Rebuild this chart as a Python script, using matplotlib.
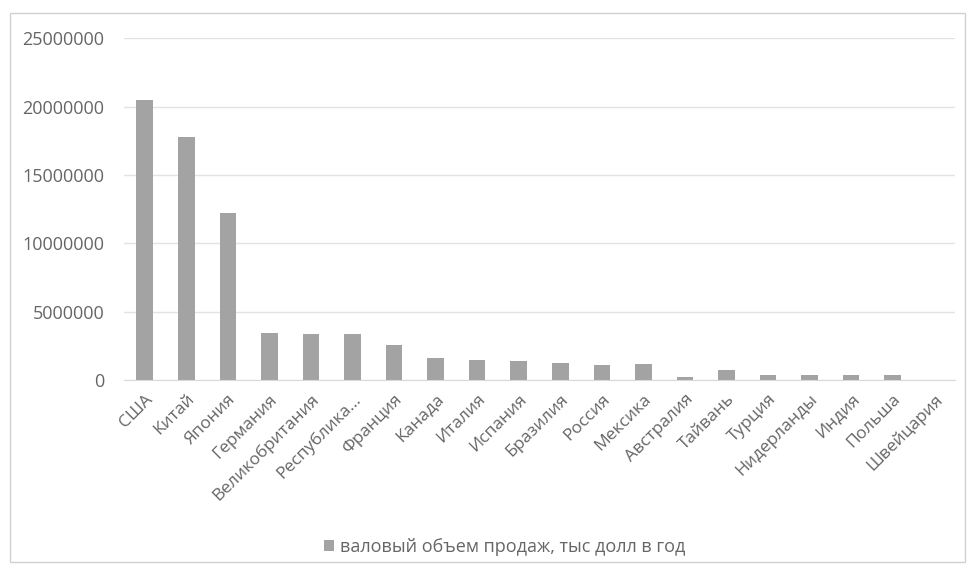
import matplotlib
matplotlib.use("Agg")
import matplotlib.pyplot as plt
from matplotlib.patches import Rectangle

# ==========================================================
# ДАННЫЕ
# ==========================================================

strany = [
    "США", "Китай", "Япония", "Германия", "Великобритания",
    "Республика...", "Франция", "Канада", "Италия", "Испания",
    "Бразилия", "Россия", "Мексика", "Австралия", "Тайвань",
    "Турция", "Нидерланды", "Индия", "Польша", "Швейцария",
]

prodazhi = [
    20500000, 17800000, 12200000, 3440000, 3370000,
    3330000, 2560000, 1600000, 1460000, 1400000,
    1250000, 1100000, 1150000, 200000, 730000,
    370000, 350000, 350000, 330000, 0,
]

y_ticks = [0, 5000000, 10000000, 15000000, 20000000, 25000000]

legenda = "валовый объем продаж, тыс долл в год"

# ==========================================================
# ГРАФИК
# ==========================================================

plt.rcParams["font.family"] = ["Open Sans", "DejaVu Sans"]

text_color = "#666666"
bar_color = "#a3a3a3"

fig = plt.figure(figsize=(9.67, 5.72), dpi=100)

# рамка диаграммы
fig.patches.append(Rectangle((10 / 967, 1 - 562 / 572), 955 / 967, 549 / 572,
                             transform=fig.transFigure, fill=False,
                             edgecolor="#d0d0d0", linewidth=1))

ax = fig.add_axes([124 / 967, 1 - 380 / 572, 831 / 967, (380 - 38.3) / 572])

x = range(len(strany))
ax.bar(x, prodazhi, width=0.4, color=bar_color, label=legenda, zorder=2)

ax.set_xlim(-0.5, len(strany) - 0.5)
ax.set_ylim(0, 25000000)
ax.set_yticks(y_ticks)
ax.set_yticklabels([str(v) for v in y_ticks], fontsize=13, color=text_color)

ax.set_xticks(list(x))
ax.set_xticklabels(strany, rotation=45, ha="right", rotation_mode="anchor",
                   fontsize=12.5, color=text_color)

ax.grid(axis="y", color="#e3e3e3", linewidth=1, zorder=0)
ax.tick_params(axis="y", length=0, pad=14)
ax.tick_params(axis="x", length=0, pad=8)
for s in ["top", "right", "left"]:
    ax.spines[s].set_visible(False)
ax.spines["bottom"].set_color("#d9d9d9")

fig.legend(loc="center", bbox_to_anchor=(0.522, 1 - 547 / 572), frameon=False,
           fontsize=13, labelcolor=text_color, handlelength=0.55,
           handleheight=0.55, handletextpad=0.3)

fig.savefig("out.png", dpi=100)
